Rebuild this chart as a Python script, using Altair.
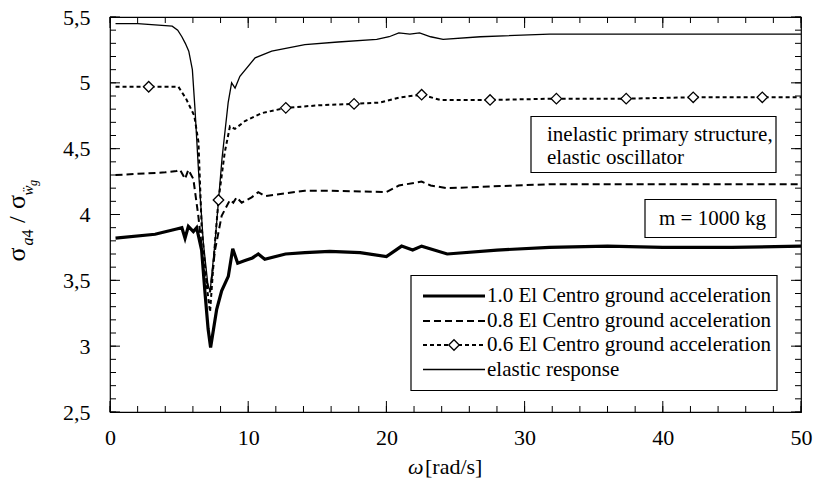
import altair as alt
import pandas as pd

FONT = "Liberation Serif"

# ---------------- data ----------------
# elastic response (thin solid)
EL_W = [0.4, 2.0, 4.5, 4.9, 5.2, 5.45, 5.7, 5.96, 6.15, 6.4, 6.75, 7.1, 7.25, 7.6, 8.1,
        8.55, 8.8, 9.05, 9.4, 10.5, 11.7, 14.1, 16.5, 19.3, 20.2, 20.9, 21.7, 22.4, 23.2,
        24.1, 26.8, 31.8, 40.0, 50.0]
EL_V = [5.45, 5.45, 5.43, 5.40, 5.35, 5.30, 5.24, 5.10, 4.80, 4.34, 3.79, 3.45, 3.42, 3.79, 4.42,
        4.85, 5.00, 4.96, 5.05, 5.19, 5.24, 5.29, 5.31, 5.33, 5.35, 5.38, 5.37, 5.38, 5.35,
        5.33, 5.35, 5.37, 5.37, 5.37]

# 0.6 El Centro (dotted with diamonds)
S06_W = [0.4, 2.8, 4.95, 5.5, 6.1, 6.4, 6.63, 7.0, 7.24, 7.6, 7.85, 8.3, 8.68, 9.04, 9.77,
         10.98, 12.72, 15.2, 17.66, 19.5, 21.0, 22.55, 23.9, 27.5, 32.3, 37.35, 42.2, 47.2, 50.0]
S06_V = [4.97, 4.97, 4.97, 4.88, 4.75, 4.55, 3.91, 3.46, 3.26, 3.79, 4.11, 4.47, 4.67, 4.65, 4.71,
         4.77, 4.81, 4.83, 4.84, 4.85, 4.89, 4.91, 4.87, 4.87, 4.88, 4.88, 4.89, 4.89, 4.89]
MK_W = [2.8, 7.85, 12.72, 17.66, 22.55, 27.5, 32.3, 37.35, 42.2, 47.2]
MK_V = [4.97, 4.11, 4.81, 4.84, 4.91, 4.87, 4.88, 4.88, 4.89, 4.89]

# 0.8 El Centro (dashed)
S08_W = [0.4, 4.0, 4.82, 5.07, 5.43, 5.67, 6.03, 6.39, 6.87, 7.24, 7.6, 8.08, 8.68, 8.92,
         9.16, 9.53, 10.25, 10.73, 11.2, 14.1, 15.9, 20.0, 20.9, 22.55, 23.2, 24.4, 31.8, 50.0]
S08_V = [4.30, 4.32, 4.33, 4.34, 4.27, 4.34, 4.27, 3.99, 3.53, 3.41, 3.73, 3.99, 4.11, 4.09,
         4.13, 4.09, 4.13, 4.17, 4.14, 4.18, 4.18, 4.17, 4.22, 4.25, 4.22, 4.20, 4.23, 4.23]

# 1.0 El Centro (thick solid)
S10_W = [0.4, 3.26, 4.82, 5.2, 5.43, 5.67, 6.03, 6.27, 6.63, 6.87, 7.1, 7.28, 7.72, 8.08,
         8.56, 8.88, 9.24, 9.77, 10.3, 10.73, 11.2, 12.7, 14.1, 15.9, 18.1, 20.0, 21.1, 21.9,
         22.55, 24.4, 28.0, 31.8, 36.0, 40.0, 45.0, 50.0]
S10_V = [3.82, 3.85, 3.89, 3.90, 3.82, 3.91, 3.87, 3.90, 3.73, 3.41, 3.13, 2.99, 3.28, 3.42,
         3.53, 3.74, 3.63, 3.65, 3.67, 3.70, 3.66, 3.70, 3.71, 3.72, 3.71, 3.68, 3.76, 3.73,
         3.76, 3.70, 3.73, 3.75, 3.76, 3.75, 3.75, 3.76]

X_LABELS = [0, 10, 20, 30, 40, 50]
Y_LABELS = [2.5, 3.0, 3.5, 4.0, 4.5, 5.0, 5.5]
X_MINOR = [0, 2, 4, 6, 8, 10, 12, 14, 16, 18, 20, 22, 24, 26, 28, 30, 32, 34, 36, 38, 40,
           42, 44, 46, 48, 50]
Y_MINOR = [2.5, 2.6, 2.7, 2.8, 2.9, 3.0, 3.1, 3.2, 3.3, 3.4, 3.5, 3.6, 3.7, 3.8, 3.9, 4.0,
           4.1, 4.2, 4.3, 4.4, 4.5, 4.6, 4.7, 4.8, 4.9, 5.0, 5.1, 5.2, 5.3, 5.4, 5.5]

LEGEND_LABELS = ["1.0 El Centro ground acceleration",
                 "0.8 El Centro ground acceleration",
                 "0.6 El Centro ground acceleration",
                 "elastic response"]
NOTE_1 = ["inelastic primary structure,", "elastic oscillator"]
NOTE_2 = "m = 1000 kg"

# ---------------- layout ----------------
W, H = 691, 395
xs = alt.Scale(domain=[0, 50], nice=False, zero=False)
ys = alt.Scale(domain=[2.5, 5.5], nice=False, zero=False)

x_axis = alt.Axis(values=X_LABELS, ticks=False, tickSize=0, domain=False, grid=False,
                  labelFont=FONT, labelFontSize=22, labelColor="black", labelPadding=15,
                  labelFlush=False, labelOverlap=False, title=None)
y_axis = alt.Axis(values=Y_LABELS, ticks=False, tickSize=0, domain=False, grid=False,
                  labelFont=FONT, labelFontSize=22, labelColor="black", labelPadding=20,
                  labelFlush=False, labelOverlap=False, title=None,
                  labelExpr="replace(toString(datum.value), '.', ',')")

one = pd.DataFrame({"k": [0]})


def X(field):
    return alt.X(field, scale=xs, axis=x_axis)


def Y(field):
    return alt.Y(field, scale=ys, axis=y_axis)


def series(w, v, **mk):
    df = pd.DataFrame({"w": w, "v": v})
    return alt.Chart(df).mark_line(color="black", **mk).encode(x=X("w:Q"), y=Y("v:Q"))


def xticks(vals, y0, y1):
    return alt.Chart(pd.DataFrame({"t": vals})).mark_rule(color="black", strokeWidth=1).encode(
        x=X("t:Q"), y=alt.value(y0), y2=alt.value(y1))


def yticks(vals, x0, x1):
    return alt.Chart(pd.DataFrame({"t": vals})).mark_rule(color="black", strokeWidth=1).encode(
        y=Y("t:Q"), x=alt.value(x0), x2=alt.value(x1))


def txt(s, x, y, size=21, style="normal", angle=0, align="left", baseline="alphabetic"):
    return alt.Chart(one).mark_text(text=s, font=FONT, fontSize=size, fontStyle=style,
                                    angle=angle, align=align, baseline=baseline,
                                    color="black").encode(x=alt.value(x), y=alt.value(y))


def box(x1, x2, y1, y2):
    return alt.Chart(one).mark_rect(fill="white", stroke="black", strokeWidth=1.2).encode(
        x=alt.value(x1), x2=alt.value(x2), y=alt.value(y1), y2=alt.value(y2))


def hline(x1, x2, y, **mk):
    return alt.Chart(one).mark_rule(color="black", **mk).encode(
        x=alt.value(x1), x2=alt.value(x2), y=alt.value(y))


layers = []
# data series (first, so they carry the axes)
layers.append(series(EL_W, EL_V, strokeWidth=1.3))
layers.append(series(S08_W, S08_V, strokeWidth=2, strokeDash=[7, 4]))
layers.append(series(S06_W, S06_V, strokeWidth=2, strokeDash=[4, 3]))
layers.append(series(S10_W, S10_V, strokeWidth=3.2))
layers.append(
    alt.Chart(pd.DataFrame({"w": MK_W, "v": MK_V})).mark_point(
        shape="diamond", size=110, filled=True, fill="white", stroke="black",
        strokeWidth=1.3, opacity=1).encode(x=X("w:Q"), y=Y("v:Q")))

# inward ticks on all four sides
X_MAJOR = X_LABELS
Y_MAJOR = Y_LABELS
layers += [xticks(X_MINOR, H, H - 6), xticks(X_MAJOR, H, H - 11),
           xticks(X_MINOR, 0, 6), xticks(X_MAJOR, 0, 11),
           yticks(Y_MINOR, 0, 6), yticks(Y_MAJOR, 0, 10),
           yticks(Y_MINOR, W, W - 6), yticks(Y_MAJOR, W, W - 10)]

# note boxes
layers.append(box(421, 666, 99.5, 155.5))
layers.append(txt(NOTE_1[0], 437, 117.5, baseline="middle"))
layers.append(txt(NOTE_1[1], 437, 140.5, baseline="middle"))
layers.append(box(535, 666, 182.5, 220.5))
layers.append(txt(NOTE_2, 549, 201.5, baseline="middle"))

# legend
layers.append(box(301, 667, 258.5, 373.5))
LY = [279, 304, 328, 352.5]
layers.append(hline(313, 375, LY[0], strokeWidth=3.2))
layers.append(hline(313, 375, LY[1], strokeWidth=2, strokeDash=[7, 4]))
layers.append(hline(313, 375, LY[2], strokeWidth=2, strokeDash=[4, 3]))
layers.append(alt.Chart(one).mark_point(shape="diamond", size=110, filled=True, fill="white",
                                        stroke="black", strokeWidth=1.3, opacity=1).encode(
    x=alt.value(344), y=alt.value(LY[2])))
layers.append(hline(313, 375, LY[3], strokeWidth=1.3))
for lbl, ly in zip(LEGEND_LABELS, LY):
    layers.append(txt(lbl, 377, ly, baseline="middle"))

# x-axis title
layers.append(txt("ω", 298, 457, size=22, style="italic"))
layers.append(txt("[rad/s]", 315, 457, size=22))

# y-axis title (rotated pieces)
layers.append(txt("σ", -85, 244.5, size=26, angle=270))
layers.append(txt("a", -77, 228.5, size=16, style="italic", angle=270))
layers.append(txt("4", -77, 220.5, size=16, angle=270))
layers.append(txt("/", -85, 206, size=24, angle=270))
layers.append(txt("σ", -85, 192, size=26, angle=270))
layers.append(txt("ẅ", -77, 178.5, size=15, style="italic", angle=270))
layers.append(txt("g", -73, 169, size=12, style="italic", angle=270))

chart = alt.layer(*layers).properties(
    width=W, height=H,
    autosize=alt.AutoSizeParams(type="none"),
    padding={"left": 110, "top": 17, "right": 15, "bottom": 70},
    background="white",
).configure_view(stroke="black", strokeWidth=1.2)

chart.save("out.html", embed_options={"renderer": "svg", "actions": False})
